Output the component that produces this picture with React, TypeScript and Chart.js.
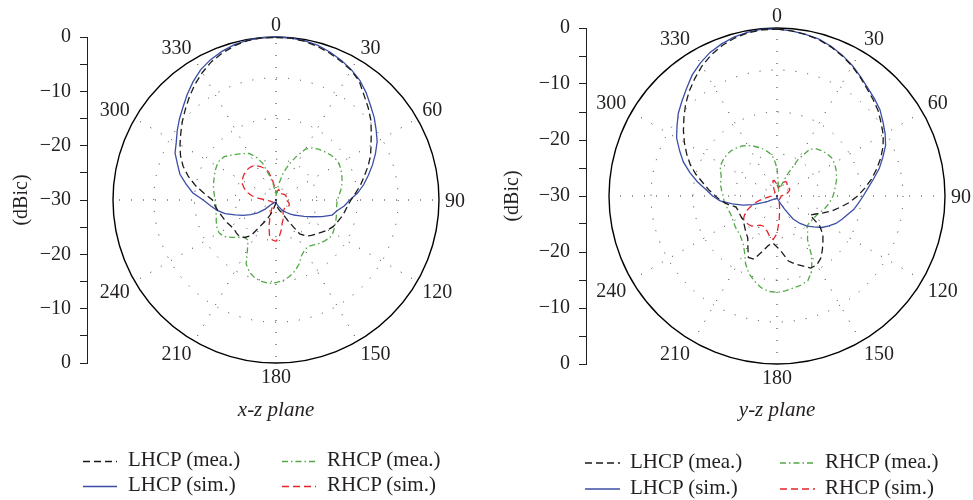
import React, { useEffect, useRef } from 'react';
import { Chart, registerables } from 'chart.js';

Chart.register(...registerables);

// Azimuth samples (degrees, clockwise from the top) shared by every series.
const ANGLES = [
  0, 5, 10, 15, 20, 25, 30, 35, 40, 45, 50, 55, 60, 65, 70, 75, 80, 85,
  90, 95, 100, 105, 110, 115, 120, 125, 130, 135, 140, 145, 150, 155, 160, 165, 170, 175,
  180, 185, 190, 195, 200, 205, 210, 215, 220, 225, 230, 235, 240, 245, 250, 255, 260, 265,
  270, 275, 280, 285, 290, 295, 300, 305, 310, 315, 320, 325, 330, 335, 340, 345, 350, 355,
];

// Angles that carry a text label around the rim.
const LABELED_ANGLES = [0, 30, 60, 90, 120, 150, 180, 210, 240, 300, 330];

// Radial range in dBic and the spacing of the dotted rings.
const DB_MIN = -30;
const DB_MAX = 0;
const RING_STEP = 7.5;
const AXIS_STEP = 5;
const AXIS_LABEL_STEP = 10;

// x-z plane patterns (dBic)
const XZ_LHCP_MEA = [
  -0.1, -0.1, -0.3, -0.7, -1.2, -1.8, -2.4, -3.3, -4.8, -6.0, -7.2, -8.6, -9.8, -10.8, -12.0, -13.2, -14.2, -15.3,
  -16.2, -16.8, -17.2, -17.6, -18.0, -18.4, -19.0, -19.7, -20.3, -20.8, -21.3, -22.4, -25.5, -27.4, -27.9, -28.3, -28.8, -29.2,
  -29.5, -29.4, -29.0, -28.5, -27.3, -26.0, -24.8, -22.0, -21.0, -20.5, -20.5, -20.6, -20.4, -20.1, -19.8, -19.5, -19.1, -18.7,
  -18.3, -16.8, -15.0, -13.3, -11.8, -10.6, -9.6, -8.6, -7.5, -6.4, -5.2, -4.0, -2.9, -1.9, -1.2, -0.6, -0.2, -0.05,
];
const XZ_LHCP_SIM = [
  0, -0.05, -0.2, -0.5, -1.0, -1.6, -2.3, -3.1, -4.2, -5.4, -6.4, -7.5, -8.5, -9.8, -11.1, -12.4, -13.6, -14.9,
  -16.4, -17.4, -18.6, -19.3, -21.0, -22.7, -24.0, -25.0, -25.7, -26.4, -27.0, -27.5, -28.0, -28.5, -28.8, -29.1, -29.3, -29.5,
  -29.6, -29.6, -29.5, -29.5, -29.5, -29.5, -29.5, -29.4, -29.3, -29.0, -27.4, -25.9, -24.6, -23.3, -22.0, -20.3, -19.0, -17.9,
  -16.6, -14.6, -13.2, -11.7, -10.7, -9.5, -8.8, -7.8, -6.8, -5.8, -4.6, -3.4, -2.3, -1.5, -0.9, -0.4, -0.1, 0,
];
const XZ_RHCP_MEA = [
  -29.3, -28.5, -27.0, -24.8, -23.0, -21.2, -19.2, -18.3, -17.8, -17.4, -17.0, -16.7, -16.6, -16.8, -17.1, -17.4, -17.8, -18.3,
  -18.7, -18.8, -18.7, -18.5, -18.3, -18.1, -17.9, -17.9, -18.3, -18.7, -19.2, -19.6, -19.4, -18.8, -17.5, -16.5, -15.7, -15.1,
  -14.8, -14.6, -14.8, -15.1, -15.8, -17.0, -19.5, -21.0, -21.0, -20.3, -19.3, -18.3, -17.9, -18.0, -18.3, -18.6, -18.8, -18.9,
  -18.8, -18.6, -18.3, -18.1, -17.9, -17.6, -17.4, -17.3, -17.6, -18.3, -19.0, -19.6, -20.1, -21.2, -22.8, -25.3, -27.0, -28.5,
];
const XZ_RHCP_SIM = [
  -28.5, -28.7, -28.3, -28.0, -28.2, -28.5, -28.6, -28.6, -28.5, -28.4, -28.3, -28.2, -28.1, -28.0, -28.0, -28.2, -28.3, -28.2,
  -28.1, -27.9, -27.7, -27.5, -27.4, -27.4, -27.5, -27.7, -27.8, -27.8, -27.7, -27.6, -27.4, -26.8, -26.2, -25.6, -24.4, -23.2,
  -22.4, -22.6, -23.2, -25.0, -26.8, -28.0, -28.8, -29.2, -29.3, -29.3, -29.3, -29.3, -29.3, -29.2, -29.1, -29.0, -28.9, -28.6,
  -28.3, -26.8, -25.5, -24.5, -23.8, -23.2, -22.8, -22.6, -22.4, -22.3, -22.3, -22.4, -22.7, -23.2, -23.8, -24.6, -26.2, -27.8,
];

// y-z plane patterns (dBic)
const YZ_LHCP_MEA = [
  -0.2, -0.4, -0.7, -1.1, -1.7, -2.4, -3.2, -4.1, -5.0, -5.7, -6.4, -7.3, -8.1, -9.1, -10.3, -11.6, -12.9, -14.3,
  -15.6, -17.0, -18.5, -19.8, -21.2, -22.4, -23.2, -20.7, -19.3, -18.4, -17.4, -16.4, -15.8, -15.8, -16.7, -17.4, -18.2, -19.9,
  -20.9, -21.6, -21.0, -19.7, -18.0, -17.9, -19.6, -20.9, -21.4, -21.9, -22.3, -22.6, -22.6, -22.6, -22.6, -22.4, -21.2, -20.0,
  -19.0, -17.8, -16.6, -15.0, -13.5, -12.2, -10.9, -9.6, -8.3, -6.9, -5.6, -4.4, -3.2, -2.2, -1.4, -0.8, -0.4, -0.2,
];
const YZ_LHCP_SIM = [
  -0.2, -0.4, -0.7, -1.0, -1.6, -2.3, -3.1, -4.0, -4.8, -5.4, -6.0, -6.9, -7.7, -8.6, -9.9, -11.1, -12.5, -13.7,
  -14.6, -15.4, -16.1, -17.0, -17.7, -18.4, -19.3, -20.2, -21.4, -22.4, -23.6, -25.0, -27.3, -28.5, -29.1, -29.4, -29.6, -29.7,
  -29.8, -29.7, -29.6, -29.5, -29.5, -29.4, -29.4, -29.3, -29.3, -29.2, -29.0, -28.7, -28.1, -27.2, -25.5, -23.7, -21.9, -19.8,
  -18.5, -17.3, -15.6, -13.9, -12.2, -10.8, -9.3, -8.2, -7.0, -6.0, -4.9, -3.6, -2.6, -1.7, -1.1, -0.6, -0.3, -0.1,
];
const YZ_RHCP_MEA = [
  -25.0, -27.5, -28.8, -29.0, -28.5, -26.0, -22.5, -19.8, -19.0, -18.6, -18.3, -18.1, -18.2, -18.4, -18.7, -19.0, -19.4, -19.7,
  -20.0, -20.4, -20.8, -21.2, -21.7, -22.1, -22.3, -22.4, -22.5, -22.4, -21.5, -20.5, -17.6, -15.3, -13.9, -13.5, -13.3, -13.0,
  -12.8, -12.9, -13.4, -14.3, -15.3, -16.7, -18.4, -19.5, -20.1, -20.5, -20.6, -20.8, -21.0, -21.1, -21.1, -20.9, -20.7, -20.5,
  -20.4, -20.1, -19.8, -19.6, -19.4, -18.8, -18.5, -18.4, -18.4, -18.5, -18.8, -19.1, -19.6, -20.2, -20.8, -21.4, -22.2, -23.2,
];
const YZ_RHCP_SIM = [
  -28.0, -28.3, -28.6, -28.2, -27.8, -27.4, -27.0, -27.0, -27.2, -27.5, -27.6, -27.5, -27.4, -27.5, -27.8, -28.2, -28.6, -28.9,
  -29.3, -29.3, -29.3, -29.3, -29.3, -29.3, -29.3, -29.3, -29.3, -29.3, -29.3, -29.2, -29.0, -28.7, -28.9, -28.3, -27.3, -25.6,
  -23.3, -22.2, -22.6, -23.4, -23.8, -24.1, -24.0, -23.5, -23.0, -22.8, -22.7, -22.7, -23.3, -24.2, -25.3, -26.5, -27.8, -28.7,
  -29.1, -29.3, -29.3, -29.3, -29.3, -29.3, -29.3, -29.3, -29.3, -29.3, -29.3, -29.3, -29.3, -28.8, -28.0, -27.2, -27.2, -27.6,
];

const SERIF = '"Liberation Serif", "Times New Roman", serif';
const TEXT = '#231f20';
const GRID = '#333333';
const CANVAS_H = 500;
const DIGIT_H = 13.5;

type SeriesStyle = { label: string; color: string; dash: number[]; width: number };

const LHCP_MEA: SeriesStyle = { label: 'LHCP (mea.)', color: '#1a1a1a', dash: [7, 4], width: 1.3 };
const LHCP_SIM: SeriesStyle = { label: 'LHCP (sim.)', color: '#3b4ea6', dash: [], width: 1.3 };
const RHCP_MEA: SeriesStyle = { label: 'RHCP (mea.)', color: '#52a846', dash: [6, 3, 1.5, 3], width: 1.3 };
const RHCP_SIM: SeriesStyle = { label: 'RHCP (sim.)', color: '#e3242b', dash: [7, 4], width: 1.3 };

// Legend grid: first row measured, second row simulated.
const LEGEND_ORDER = [LHCP_MEA, RHCP_MEA, LHCP_SIM, RHCP_SIM];

type Panel = {
  title: string;
  left: number;
  width: number;
  axisWidth: number;
  padTop: number;
  padRight: number;
  padBottom: number;
  titleGap: number;
  unitPad: number;
  series: { style: SeriesStyle; values: number[] }[];
  legend: { x: number; col: number; len: number; gap: number; y: number; row: number };
};

const PANELS: Panel[] = [
  {
    title: 'x-z plane',
    left: 0,
    width: 486,
    axisWidth: 87,
    padTop: 37,
    padRight: 21,
    padBottom: 79,
    titleGap: 37,
    unitPad: 12,
    series: [
      { style: LHCP_MEA, values: XZ_LHCP_MEA },
      { style: LHCP_SIM, values: XZ_LHCP_SIM },
      { style: RHCP_MEA, values: XZ_RHCP_MEA },
      { style: RHCP_SIM, values: XZ_RHCP_SIM },
    ],
    legend: { x: 83, col: 199, len: 34, gap: 11, y: 459.5, row: 25 },
  },
  {
    title: 'y-z plane',
    left: 486,
    width: 487,
    axisWidth: 100,
    padTop: 28,
    padRight: 5,
    padBottom: 79,
    titleGap: 36,
    unitPad: 17,
    series: [
      { style: LHCP_MEA, values: YZ_LHCP_MEA },
      { style: LHCP_SIM, values: YZ_LHCP_SIM },
      { style: RHCP_MEA, values: YZ_RHCP_MEA },
      { style: RHCP_SIM, values: YZ_RHCP_SIM },
    ],
    legend: { x: 99, col: 195, len: 35, gap: 10, y: 461, row: 26 },
  },
];

function formatDb(v: number): string {
  return v < 0 ? '\u2212' + String(-v) : String(v);
}

// Draws the azimuth labels just outside the rim, anchored like polar tick text.
const rimLabels = {
  id: 'rimLabels',
  afterDraw(chart: any) {
    const r = chart.scales.r;
    const ctx = chart.ctx;
    ctx.save();
    ctx.font = `20px ${SERIF}`;
    ctx.fillStyle = TEXT;
    ctx.textBaseline = 'alphabetic';
    ANGLES.forEach((deg, i) => {
      if (!LABELED_ANGLES.includes(deg)) return;
      const p = r.getPointPosition(i, r.drawingArea + 6);
      ctx.textAlign = deg === 0 || deg === 180 ? 'center' : deg < 180 ? 'left' : 'right';
      let y = p.y;
      if (deg === 90 || deg === 270) y = p.y + DIGIT_H / 2;
      else if (deg > 90 && deg < 270) y = p.y + DIGIT_H;
      ctx.fillText(String(chart.data.labels[i]), p.x, y);
    });
    ctx.restore();
  },
};

function PolarPanel({ panel }: { panel: Panel }) {
  const canvasRef = useRef<HTMLCanvasElement | null>(null);

  useEffect(() => {
    const canvas = canvasRef.current;
    if (!canvas) return;
    const chart = new Chart(canvas, {
      type: 'radar',
      data: {
        labels: ANGLES.map(String),
        datasets: panel.series.map(({ style, values }) => ({
          label: style.label,
          data: values,
          borderColor: style.color,
          borderWidth: style.width,
          borderDash: style.dash,
          backgroundColor: 'transparent',
          fill: false,
          pointRadius: 0,
          pointHoverRadius: 0,
          tension: 0,
        })),
      },
      options: {
        responsive: false,
        animation: false,
        devicePixelRatio: 1,
        events: [],
        layout: {
          padding: { top: panel.padTop, left: 0, right: panel.padRight, bottom: panel.padBottom },
        },
        plugins: {
          legend: { display: false },
          tooltip: { enabled: false },
          title: {
            display: true,
            position: 'bottom',
            fullSize: false,
            text: panel.title,
            color: TEXT,
            font: { family: SERIF, size: 21, style: 'italic', weight: 'normal', lineHeight: 1 },
            padding: { top: panel.titleGap, bottom: 0 },
          },
        },
        scales: {
          r: {
            min: DB_MIN,
            max: DB_MAX,
            beginAtZero: false,
            startAngle: 0,
            ticks: { display: false, stepSize: RING_STEP },
            pointLabels: { display: false },
            grid: {
              circular: true,
              color: (c: any) => (c.tick && c.tick.value === DB_MAX ? '#000000' : GRID),
              lineWidth: (c: any) =>
                c.tick && c.tick.value === DB_MIN ? 0 : c.tick && c.tick.value === DB_MAX ? 1.4 : 1,
            },
            border: {
              dash: (c: any) => (c.tick && c.tick.value === DB_MAX ? [] : [1, 11]),
            },
            angleLines: {
              display: true,
              color: GRID,
              lineWidth: (c: any) => (ANGLES[c.index] % 30 === 0 ? 1 : 0),
              borderDash: [1, 11],
            },
          },
          y: {
            type: 'linear',
            position: 'left',
            min: DB_MIN,
            max: -DB_MIN,
            afterFit: (scale: any) => {
              scale.width = panel.axisWidth;
            },
            grid: {
              display: true,
              drawOnChartArea: false,
              drawTicks: true,
              tickLength: 7,
              color: TEXT,
              lineWidth: 1,
            },
            border: { display: true, color: TEXT, width: 1 },
            ticks: {
              stepSize: AXIS_STEP,
              autoSkip: false,
              padding: 9,
              color: TEXT,
              font: { family: SERIF, size: 20 },
              callback: (v: any) => {
                const n = Number(v);
                if (n % AXIS_LABEL_STEP !== 0) return '';
                return formatDb(Math.abs(n) + DB_MIN);
              },
            },
            title: {
              display: true,
              text: '(dBic)',
              color: TEXT,
              font: { family: SERIF, size: 20, lineHeight: 1 },
              padding: { top: panel.unitPad, bottom: 0 },
            },
          },
        },
      } as any,
      plugins: [rimLabels],
    });
    return () => chart.destroy();
  }, [panel]);

  const lg = panel.legend;
  return (
    <div style={{ position: 'absolute', left: panel.left, top: 0, width: panel.width, height: CANVAS_H }}>
      <canvas ref={canvasRef} width={panel.width} height={CANVAS_H} style={{ display: 'block' }} />
      <svg
        width={panel.width}
        height={CANVAS_H}
        style={{ position: 'absolute', left: 0, top: 0, pointerEvents: 'none' }}
      >
        {LEGEND_ORDER.map((s, i) => {
          const x = lg.x + (i % 2) * lg.col;
          const y = lg.y + Math.floor(i / 2) * lg.row + 2;
          return (
            <line
              key={s.label}
              x1={x}
              x2={x + lg.len}
              y1={y}
              y2={y}
              stroke={s.color}
              strokeWidth={1.3}
              strokeDasharray={s.dash.length ? s.dash.join(' ') : undefined}
            />
          );
        })}
      </svg>
      {LEGEND_ORDER.map((s, i) => {
        const x = lg.x + (i % 2) * lg.col + lg.len + lg.gap;
        const y = lg.y + Math.floor(i / 2) * lg.row;
        return (
          <div
            key={s.label}
            style={{
              position: 'absolute',
              left: x,
              top: y - 10.5,
              fontFamily: SERIF,
              fontSize: 21,
              lineHeight: '21px',
              color: TEXT,
              whiteSpace: 'nowrap',
            }}
          >
            {s.label}
          </div>
        );
      })}
    </div>
  );
}

export default function App() {
  return (
    <div style={{ position: 'absolute', left: 0, top: 0, width: 973, height: CANVAS_H, background: '#ffffff' }}>
      {PANELS.map((p) => (
        <PolarPanel key={p.title} panel={p} />
      ))}
    </div>
  );
}
